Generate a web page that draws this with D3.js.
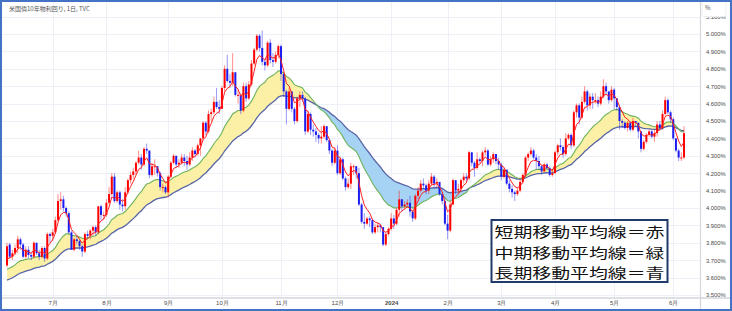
<!DOCTYPE html>
<meta charset="utf-8">
<head>
<style>
body { margin: 0; background: #fff; }
svg { display: block; font-family: "Noto Sans CJK JP", "Noto Sans", sans-serif; }
</style>
<script src="https://d3js.org/d3.v7.min.js"></script>
</head>
<body>
<div id="chart"></div>
<script>
var title = "米国債10年物利回り, 1日, TVC";
var legendLines = ["短期移動平均線＝赤", "中期移動平均線＝緑", "長期移動平均線＝青"];
var yTicks = [3.5, 3.6, 3.7, 3.8, 3.9, 4.0, 4.1, 4.2, 4.3, 4.4, 4.5, 4.6, 4.7, 4.8, 4.9, 5.0, 5.1];
var monthKeys = ["2023-07", "2023-08", "2023-09", "2023-10", "2023-11", "2023-12", "2024-01", "2024-02", "2024-03", "2024-04", "2024-05", "2024-06"];
var monthLabels = ["7月", "8月", "9月", "10月", "11月", "12月", "2024", "2月", "3月", "4月", "5月", "6月"];
var maPeriods = [5, 20, 40]; // short, mid, long

// closes before the first visible bar (Apr 3 - Jun 6 2023), only used to warm up the averages
var warmupCloses = [3.43, 3.34, 3.31, 3.29, 3.39, 3.42, 3.43, 3.39, 3.45, 3.52, 3.60, 3.58, 3.60, 3.54, 3.57,
  3.49, 3.40, 3.45, 3.53, 3.44, 3.59, 3.44, 3.34, 3.38, 3.45, 3.52, 3.52, 3.44, 3.39, 3.46,
  3.51, 3.54, 3.57, 3.64, 3.67, 3.72, 3.70, 3.74, 3.82, 3.80, 3.69, 3.64, 3.60, 3.69, 3.69, 3.66];

// date, open, high, low, close
var candles = [
["2023-06-07",3.67,3.80,3.66,3.78],["2023-06-08",3.79,3.80,3.71,3.72],["2023-06-09",3.72,3.76,3.70,3.74],
["2023-06-12",3.74,3.79,3.73,3.77],["2023-06-13",3.77,3.84,3.74,3.82],["2023-06-14",3.82,3.83,3.76,3.79],
["2023-06-15",3.79,3.80,3.71,3.72],["2023-06-16",3.72,3.78,3.71,3.76],["2023-06-20",3.76,3.78,3.71,3.73],
["2023-06-21",3.73,3.75,3.70,3.72],["2023-06-22",3.72,3.81,3.71,3.80],["2023-06-23",3.80,3.80,3.73,3.74],
["2023-06-26",3.74,3.76,3.70,3.72],["2023-06-27",3.72,3.78,3.71,3.77],["2023-06-28",3.77,3.78,3.69,3.71],
["2023-06-29",3.71,3.86,3.70,3.85],["2023-06-30",3.85,3.86,3.80,3.84],
["2023-07-03",3.84,3.88,3.81,3.86],["2023-07-05",3.86,3.95,3.85,3.93],["2023-07-06",3.93,4.08,3.92,4.04],
["2023-07-07",4.04,4.09,3.99,4.05],["2023-07-10",4.05,4.07,3.98,4.00],["2023-07-11",4.00,4.01,3.95,3.97],
["2023-07-12",3.97,3.98,3.85,3.86],["2023-07-13",3.86,3.87,3.76,3.76],["2023-07-14",3.76,3.83,3.75,3.82],
["2023-07-17",3.82,3.84,3.79,3.81],["2023-07-18",3.81,3.82,3.76,3.78],["2023-07-19",3.78,3.79,3.72,3.75],
["2023-07-20",3.75,3.86,3.74,3.85],["2023-07-21",3.85,3.87,3.82,3.84],["2023-07-24",3.84,3.88,3.82,3.87],
["2023-07-25",3.87,3.90,3.84,3.89],["2023-07-26",3.89,3.90,3.84,3.86],["2023-07-27",3.86,4.01,3.85,4.01],
["2023-07-28",4.01,4.02,3.93,3.96],["2023-07-31",3.96,3.98,3.93,3.96],
["2023-08-01",3.96,4.05,3.95,4.03],["2023-08-02",4.03,4.12,4.02,4.08],["2023-08-03",4.08,4.20,4.07,4.18],
["2023-08-04",4.18,4.20,4.03,4.04],["2023-08-07",4.04,4.10,4.03,4.09],["2023-08-08",4.09,4.10,3.99,4.02],
["2023-08-09",4.02,4.05,3.98,4.01],["2023-08-10",4.01,4.12,3.99,4.09],["2023-08-11",4.09,4.17,4.08,4.16],
["2023-08-14",4.16,4.21,4.14,4.19],["2023-08-15",4.19,4.23,4.17,4.21],["2023-08-16",4.21,4.27,4.19,4.26],
["2023-08-17",4.26,4.33,4.25,4.29],["2023-08-18",4.29,4.31,4.22,4.25],["2023-08-21",4.25,4.35,4.24,4.34],
["2023-08-22",4.34,4.37,4.31,4.33],["2023-08-23",4.33,4.33,4.17,4.19],["2023-08-24",4.19,4.26,4.18,4.24],
["2023-08-25",4.24,4.28,4.19,4.24],["2023-08-28",4.24,4.24,4.18,4.20],["2023-08-29",4.20,4.21,4.10,4.12],
["2023-08-30",4.12,4.14,4.09,4.12],["2023-08-31",4.12,4.13,4.08,4.09],
["2023-09-01",4.09,4.19,4.06,4.18],["2023-09-05",4.18,4.27,4.17,4.26],["2023-09-06",4.26,4.31,4.25,4.30],
["2023-09-07",4.30,4.30,4.23,4.25],["2023-09-08",4.25,4.28,4.23,4.26],["2023-09-11",4.26,4.31,4.25,4.29],
["2023-09-12",4.29,4.31,4.24,4.27],["2023-09-13",4.27,4.30,4.22,4.25],["2023-09-14",4.25,4.32,4.24,4.29],
["2023-09-15",4.29,4.35,4.27,4.33],["2023-09-18",4.33,4.34,4.29,4.31],["2023-09-19",4.31,4.37,4.30,4.36],
["2023-09-20",4.36,4.40,4.30,4.40],["2023-09-21",4.40,4.50,4.39,4.49],["2023-09-22",4.49,4.50,4.42,4.44],
["2023-09-25",4.44,4.56,4.43,4.54],["2023-09-26",4.54,4.57,4.50,4.55],["2023-09-27",4.55,4.64,4.54,4.61],
["2023-09-28",4.61,4.69,4.57,4.58],["2023-09-29",4.58,4.62,4.54,4.57],
["2023-10-02",4.57,4.70,4.57,4.69],["2023-10-03",4.69,4.82,4.67,4.80],["2023-10-04",4.80,4.88,4.72,4.73],
["2023-10-05",4.73,4.77,4.69,4.72],["2023-10-06",4.72,4.89,4.70,4.78],["2023-10-09",4.78,4.78,4.64,4.65],
["2023-10-10",4.65,4.68,4.60,4.65],["2023-10-11",4.65,4.66,4.54,4.56],["2023-10-12",4.56,4.72,4.55,4.70],
["2023-10-13",4.70,4.72,4.61,4.63],["2023-10-16",4.63,4.73,4.62,4.71],["2023-10-17",4.71,4.85,4.70,4.83],
["2023-10-18",4.83,4.92,4.82,4.91],["2023-10-19",4.91,5.00,4.90,4.99],["2023-10-20",4.99,5.00,4.90,4.92],
["2023-10-23",4.92,5.02,4.82,4.84],["2023-10-24",4.84,4.86,4.79,4.82],["2023-10-25",4.82,4.96,4.81,4.95],
["2023-10-26",4.95,4.97,4.83,4.85],["2023-10-27",4.85,4.89,4.81,4.84],["2023-10-30",4.84,4.90,4.83,4.88],
["2023-10-31",4.88,4.94,4.86,4.93],
["2023-11-01",4.93,4.94,4.73,4.77],["2023-11-02",4.77,4.78,4.64,4.67],["2023-11-03",4.67,4.68,4.48,4.57],
["2023-11-06",4.57,4.69,4.56,4.67],["2023-11-07",4.67,4.67,4.55,4.57],["2023-11-08",4.57,4.58,4.48,4.50],
["2023-11-09",4.50,4.64,4.49,4.63],["2023-11-10",4.63,4.67,4.58,4.65],["2023-11-13",4.65,4.67,4.61,4.63],
["2023-11-14",4.63,4.64,4.42,4.44],["2023-11-15",4.44,4.56,4.43,4.54],["2023-11-16",4.54,4.55,4.42,4.45],
["2023-11-17",4.45,4.48,4.41,4.44],["2023-11-20",4.44,4.46,4.38,4.42],["2023-11-21",4.42,4.43,4.37,4.40],
["2023-11-22",4.40,4.47,4.37,4.41],["2023-11-24",4.41,4.48,4.40,4.47],["2023-11-27",4.47,4.47,4.38,4.39],
["2023-11-28",4.39,4.40,4.31,4.33],["2023-11-29",4.33,4.34,4.24,4.26],["2023-11-30",4.26,4.35,4.25,4.33],
["2023-12-01",4.33,4.36,4.19,4.20],["2023-12-04",4.20,4.29,4.19,4.28],["2023-12-05",4.28,4.29,4.16,4.17],
["2023-12-06",4.17,4.18,4.10,4.12],["2023-12-07",4.12,4.17,4.11,4.14],["2023-12-08",4.14,4.26,4.11,4.24],
["2023-12-11",4.24,4.25,4.19,4.24],["2023-12-12",4.24,4.24,4.17,4.20],["2023-12-13",4.20,4.23,4.01,4.02],
["2023-12-14",4.02,4.03,3.91,3.92],["2023-12-15",3.92,3.97,3.88,3.91],["2023-12-18",3.91,3.95,3.90,3.94],
["2023-12-19",3.94,3.95,3.89,3.93],["2023-12-20",3.93,3.94,3.85,3.86],["2023-12-21",3.86,3.91,3.85,3.89],
["2023-12-22",3.89,3.92,3.86,3.90],["2023-12-26",3.90,3.91,3.86,3.89],["2023-12-27",3.89,3.89,3.78,3.79],
["2023-12-28",3.79,3.86,3.78,3.85],["2023-12-29",3.85,3.89,3.84,3.88],
["2024-01-02",3.88,3.97,3.87,3.94],["2024-01-03",3.94,3.96,3.88,3.91],["2024-01-04",3.91,4.00,3.90,3.99],
["2024-01-05",3.99,4.10,3.95,4.05],["2024-01-08",4.05,4.05,3.98,4.01],["2024-01-09",4.01,4.04,3.99,4.02],
["2024-01-10",4.02,4.05,4.00,4.03],["2024-01-11",4.03,4.07,3.95,3.98],["2024-01-12",3.98,3.99,3.92,3.94],
["2024-01-16",3.94,4.08,3.93,4.07],["2024-01-17",4.07,4.12,4.05,4.10],["2024-01-18",4.10,4.16,4.09,4.14],
["2024-01-19",4.14,4.17,4.11,4.13],["2024-01-22",4.13,4.14,4.08,4.10],["2024-01-23",4.10,4.16,4.08,4.14],
["2024-01-24",4.14,4.20,4.13,4.18],["2024-01-25",4.18,4.19,4.11,4.14],["2024-01-26",4.14,4.17,4.12,4.15],
["2024-01-29",4.15,4.15,4.07,4.08],["2024-01-30",4.08,4.09,4.02,4.04],["2024-01-31",4.04,4.06,3.90,3.91],
["2024-02-01",3.91,3.96,3.82,3.87],["2024-02-02",3.87,4.04,3.86,4.02],["2024-02-05",4.02,4.17,4.02,4.16],
["2024-02-06",4.16,4.16,4.08,4.10],["2024-02-07",4.10,4.14,4.08,4.11],["2024-02-08",4.11,4.17,4.09,4.16],
["2024-02-09",4.16,4.20,4.14,4.18],["2024-02-12",4.18,4.20,4.15,4.17],["2024-02-13",4.17,4.33,4.16,4.32],
["2024-02-14",4.32,4.32,4.24,4.26],["2024-02-15",4.26,4.27,4.18,4.23],["2024-02-16",4.23,4.32,4.22,4.28],
["2024-02-20",4.28,4.29,4.26,4.27],["2024-02-21",4.27,4.33,4.24,4.32],["2024-02-22",4.32,4.35,4.30,4.33],
["2024-02-23",4.33,4.34,4.24,4.25],["2024-02-26",4.25,4.30,4.24,4.28],["2024-02-27",4.28,4.32,4.26,4.31],
["2024-02-28",4.31,4.31,4.25,4.27],["2024-02-29",4.27,4.29,4.22,4.25],
["2024-03-01",4.25,4.26,4.16,4.18],["2024-03-04",4.18,4.23,4.17,4.22],["2024-03-05",4.22,4.22,4.13,4.14],
["2024-03-06",4.14,4.16,4.09,4.11],["2024-03-07",4.11,4.13,4.06,4.09],["2024-03-08",4.09,4.10,4.04,4.08],
["2024-03-11",4.08,4.12,4.07,4.10],["2024-03-12",4.10,4.17,4.09,4.15],["2024-03-13",4.15,4.20,4.14,4.19],
["2024-03-14",4.19,4.30,4.18,4.29],["2024-03-15",4.29,4.32,4.27,4.31],["2024-03-18",4.31,4.35,4.30,4.33],
["2024-03-19",4.33,4.34,4.28,4.29],["2024-03-20",4.29,4.31,4.22,4.27],["2024-03-21",4.27,4.30,4.22,4.24],
["2024-03-22",4.24,4.25,4.19,4.21],["2024-03-25",4.21,4.26,4.21,4.25],["2024-03-26",4.25,4.26,4.22,4.23],
["2024-03-27",4.23,4.24,4.18,4.19],["2024-03-28",4.19,4.22,4.18,4.20],
["2024-04-01",4.20,4.33,4.20,4.32],["2024-04-02",4.32,4.37,4.30,4.36],["2024-04-03",4.36,4.40,4.33,4.35],
["2024-04-04",4.35,4.36,4.29,4.31],["2024-04-05",4.31,4.43,4.30,4.40],["2024-04-08",4.40,4.43,4.39,4.42],
["2024-04-09",4.42,4.43,4.34,4.36],["2024-04-10",4.36,4.56,4.35,4.55],["2024-04-11",4.55,4.60,4.52,4.59],
["2024-04-12",4.59,4.60,4.48,4.52],["2024-04-15",4.52,4.64,4.51,4.61],["2024-04-16",4.61,4.70,4.60,4.67],
["2024-04-17",4.67,4.68,4.56,4.59],["2024-04-18",4.59,4.66,4.57,4.64],["2024-04-19",4.64,4.66,4.57,4.62],
["2024-04-22",4.62,4.66,4.60,4.62],["2024-04-23",4.62,4.64,4.58,4.60],["2024-04-24",4.60,4.67,4.59,4.64],
["2024-04-25",4.64,4.74,4.63,4.70],["2024-04-26",4.70,4.72,4.65,4.67],["2024-04-29",4.67,4.67,4.60,4.62],
["2024-04-30",4.62,4.70,4.61,4.68],
["2024-05-01",4.68,4.69,4.57,4.63],["2024-05-02",4.63,4.63,4.56,4.58],["2024-05-03",4.58,4.59,4.45,4.50],
["2024-05-06",4.50,4.51,4.46,4.49],["2024-05-07",4.49,4.50,4.45,4.46],["2024-05-08",4.46,4.50,4.44,4.49],
["2024-05-09",4.49,4.50,4.44,4.45],["2024-05-10",4.45,4.52,4.44,4.50],["2024-05-13",4.50,4.50,4.47,4.49],
["2024-05-14",4.49,4.49,4.40,4.44],["2024-05-15",4.44,4.44,4.32,4.34],["2024-05-16",4.34,4.39,4.33,4.38],
["2024-05-17",4.38,4.43,4.37,4.42],["2024-05-20",4.42,4.45,4.41,4.44],["2024-05-21",4.44,4.45,4.40,4.41],
["2024-05-22",4.41,4.45,4.38,4.43],["2024-05-23",4.43,4.50,4.41,4.48],["2024-05-24",4.48,4.50,4.45,4.46],
["2024-05-28",4.46,4.56,4.45,4.54],["2024-05-29",4.54,4.64,4.53,4.62],["2024-05-30",4.62,4.63,4.54,4.55],
["2024-05-31",4.55,4.56,4.49,4.51],
["2024-06-03",4.51,4.52,4.39,4.40],["2024-06-04",4.40,4.40,4.32,4.33],["2024-06-05",4.33,4.34,4.27,4.29],
["2024-06-06",4.29,4.32,4.27,4.29],["2024-06-07",4.29,4.47,4.28,4.43]
];

var W = 732, H = 311;
var plotRight = 700, axisY = 298;
var upColor = "#ff0000", downColor = "#1c1cf0";

var svg = d3.select("#chart").append("svg").attr("width", W).attr("height", H);
svg.append("rect").attr("width", W).attr("height", H).attr("fill", "#fff");

var dates = candles.map(function(d) { return d[0]; });
var closes = candles.map(function(d) { return d[4]; });

var x = d3.scalePoint().domain(dates).range([7, 684]);
var y = d3.scaleLinear().domain([3.5, 5.0]).range([295, 34]);

function ema(values, n) {
  var a = 2 / (n + 1), out = [], e = values[0];
  values.forEach(function(v, i) {
    e = i === 0 ? v : a * v + (1 - a) * e;
    out.push(e);
  });
  return out;
}
var series = warmupCloses.concat(closes);
var mas = maPeriods.map(function(p) { return ema(series, p).slice(warmupCloses.length); });
var shortMA = mas[0], midMA = mas[1], longMA = mas[2];

// clip for plot area
var defs = svg.append("defs");
defs.append("clipPath").attr("id", "plot").append("rect")
  .attr("x", 2).attr("y", 2).attr("width", plotRight - 2).attr("height", axisY - 2);

// grid
var grid = svg.append("g").attr("clip-path", "url(#plot)");
grid.selectAll("line.h").data(yTicks).enter().append("line")
  .attr("x1", 2).attr("x2", plotRight)
  .attr("y1", function(d) { return Math.round(y(d)) + 0.5; })
  .attr("y2", function(d) { return Math.round(y(d)) + 0.5; })
  .attr("stroke", "#edf0f6").attr("stroke-width", 1);

var tickDates = monthKeys.map(function(k) {
  return dates.find(function(d) { return d.slice(0, 7) === k; });
});
grid.selectAll("line.v").data(tickDates).enter().append("line")
  .attr("y1", 2).attr("y2", axisY)
  .attr("x1", function(d) { return Math.round(x(d)) + 0.5; })
  .attr("x2", function(d) { return Math.round(x(d)) + 0.5; })
  .attr("stroke", "#edf0f6").attr("stroke-width", 1);

// fill between mid and long averages
var idx = d3.range(candles.length);
var px = function(i) { return x(dates[i]); };
var between = d3.area().x(px).y0(function(i) { return y(longMA[i]); }).y1(function(i) { return y(midMA[i]); });
defs.append("clipPath").attr("id", "aboveLong").append("path")
  .attr("d", d3.area().x(px).y0(0).y1(function(i) { return y(longMA[i]); })(idx));
defs.append("clipPath").attr("id", "belowLong").append("path")
  .attr("d", d3.area().x(px).y0(H).y1(function(i) { return y(longMA[i]); })(idx));

var chart = svg.append("g").attr("clip-path", "url(#plot)");
chart.append("path").attr("d", between(idx)).attr("fill", "#fcf0a6").attr("clip-path", "url(#aboveLong)");
chart.append("path").attr("d", between(idx)).attr("fill", "#a6d2f4").attr("clip-path", "url(#belowLong)");

var maLine = function(arr) {
  return d3.line().x(px).y(function(i) { return y(arr[i]); })(idx);
};
chart.append("path").attr("d", maLine(longMA)).attr("fill", "none").attr("stroke", "#5966a6").attr("stroke-width", 1.3);
chart.append("path").attr("d", maLine(midMA)).attr("fill", "none").attr("stroke", "#6cb35a").attr("stroke-width", 1.1);

// candles
var c = chart.selectAll("g.candle").data(candles).enter().append("g");
c.append("line")
  .attr("x1", function(d) { return x(d[0]); }).attr("x2", function(d) { return x(d[0]); })
  .attr("y1", function(d) { return y(d[2]); }).attr("y2", function(d) { return y(d[3]); })
  .attr("stroke", function(d) { return d[4] >= d[1] ? upColor : downColor; })
  .attr("stroke-opacity", 0.45).attr("stroke-width", 1);
c.append("rect")
  .attr("x", function(d) { return x(d[0]) - 1; })
  .attr("width", 2)
  .attr("y", function(d) { return y(Math.max(d[1], d[4])); })
  .attr("height", function(d) { return Math.max(1, Math.abs(y(d[1]) - y(d[4]))); })
  .attr("fill", function(d) { return d[4] >= d[1] ? upColor : downColor; });

chart.append("path").attr("d", maLine(shortMA)).attr("fill", "none").attr("stroke", "#ff2020").attr("stroke-width", 1);

// axes
var xAxis = svg.append("g").attr("transform", "translate(0," + axisY + ")")
  .call(d3.axisBottom(x).tickValues(tickDates).tickSize(0).tickPadding(3)
    .tickFormat(function(d, i) { return monthLabels[i]; }));
xAxis.select(".domain").remove();
xAxis.selectAll("text").attr("fill", "#4a4a4a").attr("font-size", 6)
  .attr("font-weight", function(d, i) { return monthLabels[i] === "2024" ? "bold" : null; });

var yAxis = svg.append("g").attr("transform", "translate(" + plotRight + ",0)")
  .call(d3.axisRight(y).tickValues(yTicks).tickSize(0).tickPadding(6)
    .tickFormat(function(d) { return d.toFixed(3) + "%"; }));
yAxis.select(".domain").remove();
yAxis.selectAll("text").attr("fill", "#4a4a4a").attr("font-size", 5.8);

svg.append("line").attr("x1", 2).attr("x2", W - 2).attr("y1", axisY).attr("y2", axisY)
  .attr("stroke", "#d3d6dd").attr("stroke-width", 1.5);
svg.append("line").attr("x1", plotRight + 0.5).attr("x2", plotRight + 0.5).attr("y1", 0).attr("y2", H)
  .attr("stroke", "#d3d6dd").attr("stroke-width", 1.2);

// unit box on the price scale (hides the top half of the 5.100% label)
svg.append("rect").attr("x", 702).attr("y", 1).attr("width", 24).attr("height", 15.5).attr("rx", 2)
  .attr("fill", "#fff").attr("stroke", "#eceef2");
svg.append("text").attr("x", 705).attr("y", 10).attr("font-size", 6).attr("fill", "#4a4a4a").text("%");

// title
svg.append("text").attr("x", 9).attr("y", 10.5).attr("font-size", 6).attr("fill", "#555").text(title);

// legend box
svg.append("rect").attr("x", 491.5).attr("y", 220).attr("width", 176).attr("height", 62)
  .attr("fill", "#fff").attr("stroke", "#1f3a6b").attr("stroke-width", 2);
svg.selectAll("text.legend").data(legendLines).enter().append("text")
  .attr("x", 494.5).attr("y", function(d, i) { return 237.2 + i * 20.3; })
  .attr("font-size", 13.8).attr("textLength", 170).attr("lengthAdjust", "spacingAndGlyphs")
  .attr("fill", "#111").text(function(d) { return d; });

// outer frame
svg.append("rect").attr("x", 1).attr("y", 1).attr("width", W - 2).attr("height", H - 2)
  .attr("fill", "none").attr("stroke", "#4472c4").attr("stroke-width", 2);
</script>
</body>
